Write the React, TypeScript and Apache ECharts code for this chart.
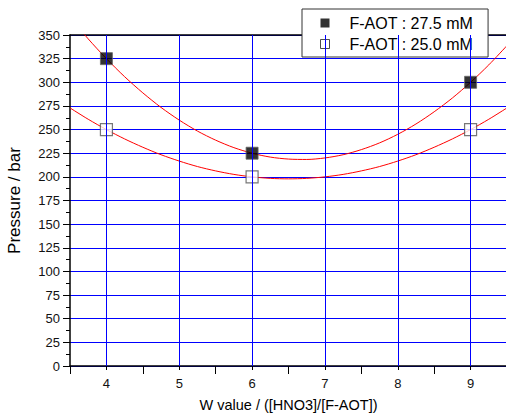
import React, { useEffect, useRef } from "react";
import * as echarts from "echarts";

// measured data points
const wValues = [4, 6, 9];
const p275 = [325, 225, 300];
const p250 = [250, 200, 250];

// fitted curves
const fitX = [3.5, 3.75, 4, 4.25, 4.5, 4.75, 5, 5.25, 5.5, 5.75, 6, 6.25, 6.5, 6.75, 7, 7.25, 7.5, 7.75, 8, 8.25, 8.5, 8.75, 9, 9.25, 9.5];
const fit275 = [368.8, 345.9, 325, 305.9, 288.8, 273.4, 260, 248.4, 238.8, 230.9, 225, 220.9, 218.8, 218.4, 220, 223.4, 228.8, 235.9, 245, 255.9, 268.8, 283.4, 300, 318.4, 338.8];
const fit250 = [272.9, 260.9, 250, 240.1, 231.3, 223.4, 216.7, 210.9, 206.3, 202.6, 200, 198.4, 197.9, 198.4, 200, 202.6, 206.3, 210.9, 216.7, 223.4, 231.3, 240.1, 250, 260.9, 272.9];

const gridXs = [4, 5, 6, 7, 8, 9];
const legendNames = ["F-AOT : 27.5 mM", "F-AOT : 25.0 mM"];
const xTitle = "W value / ([HNO3]/[F-AOT])";
const yTitle = "Pressure / bar";

export default function App() {
  const ref = useRef<HTMLDivElement>(null);
  useEffect(() => {
    if (!ref.current) return;
    const chart = echarts.init(ref.current, undefined, { renderer: "svg" });
    const font = "Liberation Sans, Arial, sans-serif";
    const pair = (xs: number[], ys: number[]) => xs.map((x, i) => [x, ys[i]]);
    chart.setOption({
      animation: false,
      backgroundColor: "#fff",
      textStyle: { fontFamily: font },
      grid: { left: 70, width: 437, top: 35, height: 331, containLabel: false, outerBoundsMode: "none" },
      legend: {
        show: true,
        orient: "vertical",
        left: 302,
        top: 9,
        itemGap: 5,
        itemWidth: 9,
        itemHeight: 9,
        padding: [6, 15, 5, 18],
        borderColor: "#333",
        borderWidth: 1,
        backgroundColor: "#fff",
        data: [
          { name: legendNames[0], icon: "rect", itemStyle: { color: "#000", borderColor: "#000", borderWidth: 0 } },
          { name: legendNames[1], icon: "rect", itemStyle: { color: "#fff", borderColor: "#222", borderWidth: 1 } },
        ],
        textStyle: { fontSize: 16, lineHeight: 16, color: "#000", fontFamily: font, padding: [0, 0, 0, 15] },
      },
      xAxis: [
        {
          type: "value",
          min: 3.5,
          max: 9.5,
          interval: 0.5,
          name: xTitle,
          nameLocation: "middle",
          nameGap: 31,
          nameTextStyle: { fontSize: 14.5, color: "#000", fontFamily: font },
          axisLine: { show: true, onZero: false, lineStyle: { color: "#000", width: 1.5 } },
          axisTick: { show: false },
          axisLabel: {
            fontSize: 13,
            color: "#111",
            margin: 11,
            formatter: (v: number) => (Number.isInteger(v) ? String(v) : ""),
          },
          splitLine: { show: false },
        },
        {
          type: "value",
          position: "top",
          min: 3.5,
          max: 9.5,
          axisLine: { show: true, onZero: false, lineStyle: { color: "#000", width: 1.5 } },
          axisTick: { show: false },
          axisLabel: { show: false },
          splitLine: { show: false },
        },
        {
          // tick marks: long at integers, short at halves
          type: "value",
          position: "bottom",
          min: 3.5,
          max: 9.5,
          interval: 1,
          axisLine: { show: false, onZero: false },
          axisTick: { show: true, length: 8, lineStyle: { color: "#000", width: 1 } },
          minorTick: { show: true, splitNumber: 2, length: 4, lineStyle: { color: "#000", width: 1 } },
          axisLabel: { show: false },
          splitLine: { show: false },
        },
      ],
      yAxis: {
        type: "value",
        min: 0,
        max: 350,
        interval: 25,
        name: yTitle,
        nameLocation: "middle",
        nameGap: 47,
        nameTextStyle: { fontSize: 17, color: "#000", fontFamily: font },
        axisLine: { show: true, onZero: false, lineStyle: { color: "#000", width: 1.5 } },
        axisTick: { show: true, length: 7, lineStyle: { color: "#000" } },
        minorTick: { show: true, splitNumber: 2, length: 4, lineStyle: { color: "#000" } },
        axisLabel: { fontSize: 13, color: "#111", margin: 10 },
        splitLine: { show: true, lineStyle: { color: "#0000ff", width: 1 } },
      },
      series: [
        {
          type: "line",
          data: pair(fitX, fit275),
          smooth: 0.3,
          symbol: "none",
          lineStyle: { color: "#ff0000", width: 1 },
          silent: true,
          z: 3,
        },
        {
          type: "line",
          data: pair(fitX, fit250),
          smooth: 0.3,
          symbol: "none",
          lineStyle: { color: "#ff0000", width: 1 },
          silent: true,
          z: 3,
        },
        {
          name: legendNames[0],
          type: "scatter",
          data: pair(wValues, p275),
          symbol: "rect",
          symbolSize: 12,
          itemStyle: { color: "#000", borderColor: "#666", borderWidth: 1 },
          z: 4,
        },
        {
          name: legendNames[1],
          type: "scatter",
          data: pair(wValues, p250),
          symbol: "rect",
          symbolSize: 12,
          itemStyle: { color: "#fff", borderColor: "#555", borderWidth: 1.2 },
          z: 4,
        },
        {
          // vertical grid lines at integer W values
          type: "line",
          data: [],
          markLine: {
            silent: true,
            symbol: "none",
            label: { show: false },
            lineStyle: { color: "#0000ff", width: 1, type: "solid" },
            data: gridXs.map((x) => ({ xAxis: x })),
          },
          z: 1,
        },
      ],
    });
    return () => chart.dispose();
  }, []);
  return <div ref={ref} style={{ width: 506, height: 414, position: "absolute", left: 0, top: 0 }} />;
}
